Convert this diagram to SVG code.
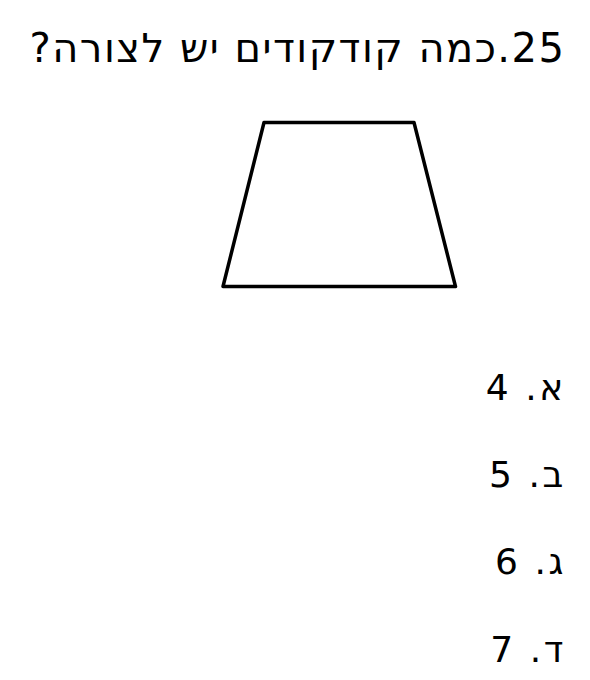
<svg xmlns="http://www.w3.org/2000/svg" width="590" height="680" viewBox="0 0 590 680">
<style>
.t{font-family:"DejaVu Sans","Noto Sans",sans-serif;fill:#000;direction:rtl;text-anchor:start}
.q{font-size:40px;letter-spacing:1.5px}
.o{font-size:36px;letter-spacing:2.6px}
.shape{fill:#fff;stroke:#000;stroke-width:3.5;stroke-linejoin:round}
</style>
<rect width="590" height="680" fill="#fff"/>
<g id="title"><text class="t q" x="565.5" y="62" direction="rtl">25.כמה קודקודים יש לצורה?</text></g>
<g id="trapezoid"><polygon class="shape" points="264,122.5 414,122.5 455.5,286.5 223,286.5"/></g>
<g id="connectors"></g>
<g id="opt-a"><text class="t o" x="566" y="399.5" direction="rtl">א. 4</text></g>
<g id="opt-b"><text class="t o" x="566" y="486.8" direction="rtl">ב. 5</text></g>
<g id="opt-c"><text class="t o" x="566" y="574" direction="rtl">ג. 6</text></g>
<g id="opt-d"><text class="t o" x="566" y="661.5" direction="rtl">ד. 7</text></g>
</svg>
